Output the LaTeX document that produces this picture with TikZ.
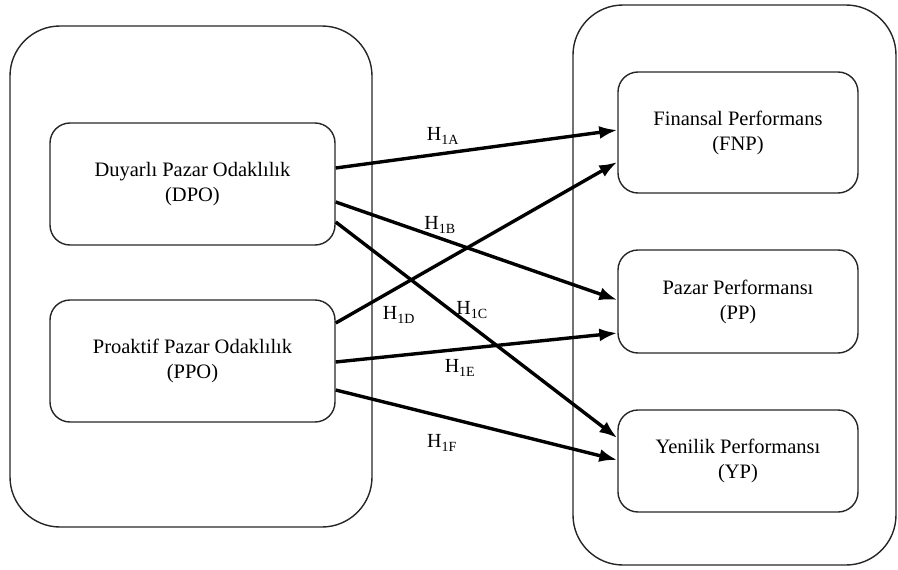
\documentclass[tikz,border=0pt]{standalone}
\usepackage{fontspec}
\setmainfont{Liberation Serif}
\usetikzlibrary{shapes,arrows.meta}

\begin{document}
\begin{tikzpicture}[x=1pt,y=-1pt]
\tikzstyle{groupbox} = [draw=black!85,line width=1.4pt,rounded corners=50pt]
\tikzstyle{varbox} = [draw=black!85,line width=1.4pt,rounded corners=20pt,align=center,font=\fontsize{20.5}{25}\selectfont]
\tikzstyle{hyparrow} = [line width=3.4pt,-{Latex[length=18pt,width=13pt]}]
\tikzstyle{hyplabel} = [font=\fontsize{20}{24}\selectfont]
\useasboundingbox (0,0) rectangle (898,570);
\draw[groupbox] (10,26) rectangle (372,527);
\draw[groupbox] (573,5) rectangle (896,565);
\node[varbox,minimum width=285pt,minimum height=122pt] (dpo) at (192.5,184) {Duyarlı Pazar Odaklılık\\(DPO)};
\node[varbox,minimum width=285pt,minimum height=122pt] (ppo) at (192.5,361) {Proaktif Pazar Odaklılık\\(PPO)};
\node[varbox,minimum width=240pt,minimum height=121pt] (fnp) at (738,132.5) {Finansal Performans\\(FNP)};
\node[varbox,minimum width=240pt,minimum height=103pt] (pp) at (738,301.5) {Pazar Performansı\\(PP)};
\node[varbox,minimum width=240pt,minimum height=102pt] (yp) at (738,461) {Yenilik Performansı\\(YP)};
\draw[hyparrow] ([yshift=16pt]dpo.east) -- ([yshift=2.5pt]fnp.west);
\draw[hyparrow] ([yshift=-18pt]dpo.east) -- ([yshift=1.5pt]pp.west);
\draw[hyparrow] ([yshift=-38pt]dpo.east) -- ([yshift=23pt]yp.west);
\draw[hyparrow] ([yshift=38pt]ppo.east) -- ([yshift=-29.5pt]fnp.west);
\draw[hyparrow] ([yshift=-1pt]ppo.east) -- ([yshift=-31.5pt]pp.west);
\draw[hyparrow] ([yshift=-29pt]ppo.east) -- ([yshift=1pt]yp.west);
\node[hyplabel] (h1a) at (443,136) {H\textsubscript{1A}};
\node[hyplabel] (h1b) at (440,225) {H\textsubscript{1B}};
\node[hyplabel] (h1c) at (472,310) {H\textsubscript{1C}};
\node[hyplabel] (h1d) at (399,315) {H\textsubscript{1D}};
\node[hyplabel] (h1e) at (460,368) {H\textsubscript{1E}};
\node[hyplabel] (h1f) at (442,443) {H\textsubscript{1F}};
\end{tikzpicture}
\end{document}
